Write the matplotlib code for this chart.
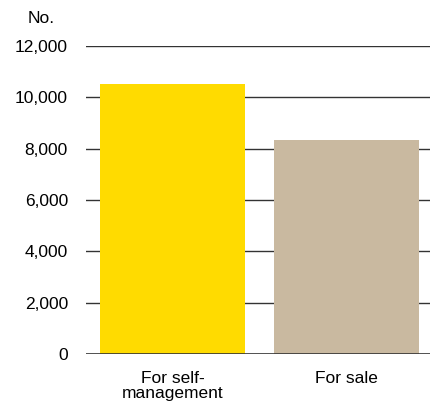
import matplotlib
matplotlib.use("Agg")
import matplotlib.pyplot as plt
from matplotlib.ticker import FuncFormatter

# Dati del grafico
categorie = ["For self-\nmanagement", "For sale"]
valori = [10520, 8320]
colori = ["#FFDB00", "#C9B9A0"]
yticks = [0, 2000, 4000, 6000, 8000, 10000, 12000]

plt.rcParams["font.family"] = ["Liberation Sans", "DejaVu Sans"]

fig = plt.figure(figsize=(4.30, 4.07), dpi=100)
ax = fig.add_axes([86 / 430, 1 - 354 / 407, 344 / 430, 308 / 407])

for y in yticks[1:]:
    ax.axhline(y, color="#333333", linewidth=1.0, zorder=1)
ax.axhline(0, color="#333333", linewidth=1.2, zorder=3)

ax.bar(range(len(categorie)), valori, width=0.833, color=colori, zorder=2)

ax.set_xlim(-0.497, 1.48)
ax.set_ylim(0, 12000)
ax.set_yticks(yticks)
ax.yaxis.set_major_formatter(FuncFormatter(lambda v, p: f"{int(v):,}"))
ax.set_xticks(range(len(categorie)))
ax.set_xticklabels(categorie, linespacing=1.05)
ax.tick_params(axis="y", length=0, pad=13, labelsize=12.5)
ax.tick_params(axis="x", length=0, pad=12, labelsize=12.5)
for s in ax.spines.values():
    s.set_visible(False)

fig.text(55 / 430, 1 - 18.5 / 407, "No.", ha="right", va="center", fontsize=12.5)

fig.savefig("out.png", dpi=100)
